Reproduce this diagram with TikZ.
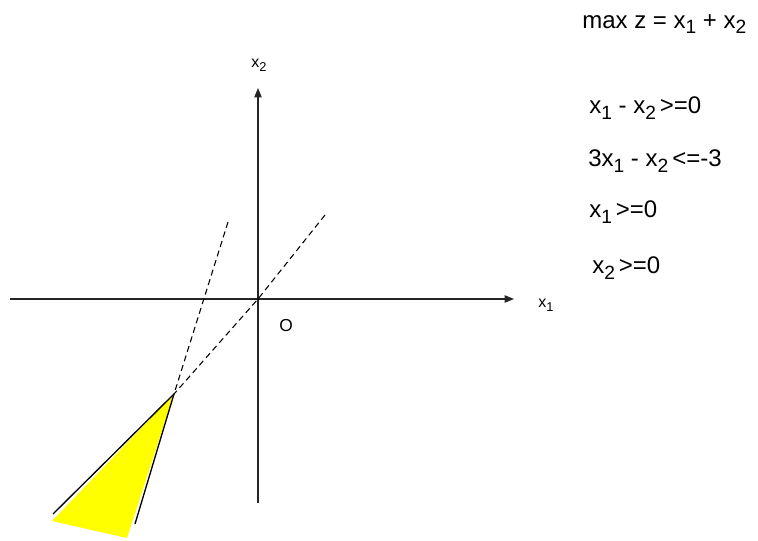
\documentclass[tikz,border=0pt]{standalone}
\usepackage{fontspec}
\setmainfont{Liberation Sans}
\usetikzlibrary{arrows.meta}
\newcommand{\ix}[1]{\raisebox{-0.45ex}{\scalebox{0.8}{#1}}}
\definecolor{feasible}{RGB}{255,255,0}

\begin{document}
\begin{tikzpicture}[x=0.75pt, y=-0.75pt,
  axis/.style={-{Triangle[length=7pt,width=5.5pt]}, line width=0.9pt, black!85},
  guide/.style={dash pattern=on 4.5pt off 3pt, line width=0.8pt},
  bound/.style={line width=1pt},
  lbl/.style={font=\fontsize{12}{14}\selectfont, inner sep=0pt},
  cons/.style={font=\fontsize{18}{20}\selectfont, inner sep=0pt, anchor=west}
]
  \useasboundingbox (0,0) rectangle (758,540);

  % axes
  \coordinate (o) at (258,299);
  \coordinate (xl) at (10,299);
  \coordinate (xr) at (514,299);
  \coordinate (yb) at (258,503);
  \coordinate (yt) at (258,88);
  \draw[axis] (xl) -- (xr);
  \draw[axis] (yb) -- (yt);

  % feasible region
  \coordinate (p) at (174,394);
  \fill[feasible] (p) -- (52,521) -- (127,538) -- cycle;

  % constraint lines
  \coordinate (a1) at (325,215);
  \coordinate (a2) at (53,514);
  \coordinate (b1) at (228,222);
  \coordinate (b2) at (135,524);
  \draw[guide] (a1) -- (o) -- (p);
  \draw[guide] (b1) -- (p);
  \draw[bound] (p) -- (a2);
  \draw[bound] (p) -- (b2);
  \fill (o) circle (1.2);

  % labels
  \node[lbl] (lx2) at (259,65) {x\ix{2}};
  \node[lbl] (lx1) at (546,305) {x\ix{1}};
  \node[lbl, font=\fontsize{13}{15}\selectfont] (lo) at (286,326) {O};

  % model
  \node[cons] (obj) at (582,24) {max z = x\ix{1} + x\ix{2}};
  \node[cons] (c1) at (589,108) {x\ix{1} - x\ix{2}\,>=0};
  \node[cons] (c2) at (588,161) {3x\ix{1} - x\ix{2}\,<=-3};
  \node[cons] (c3) at (589,212) {x\ix{1}\,>=0};
  \node[cons] (c4) at (592,268) {x\ix{2}\,>=0};
\end{tikzpicture}
\end{document}
